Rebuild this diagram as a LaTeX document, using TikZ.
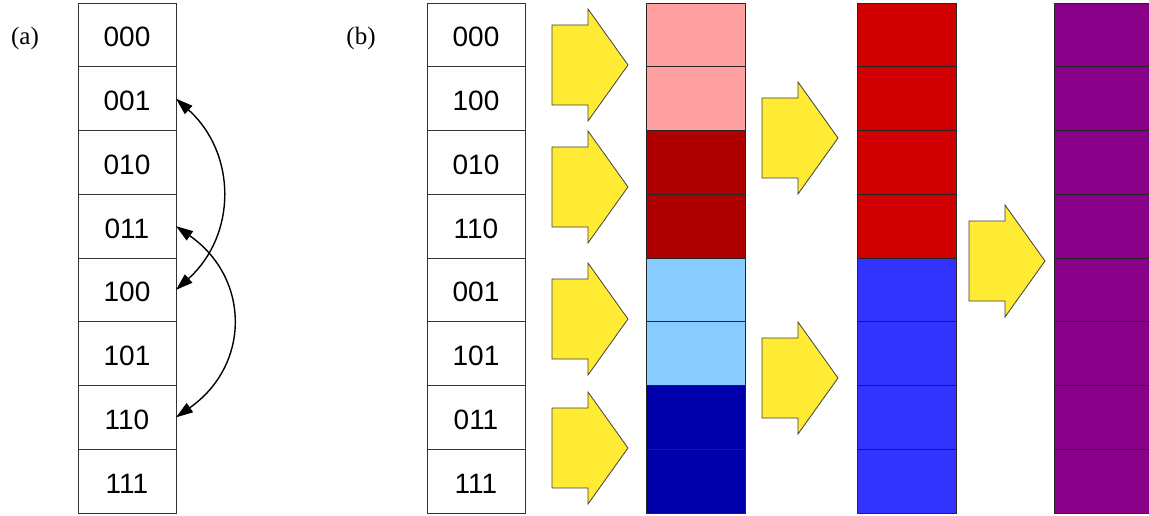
\documentclass[tikz,border=0pt]{standalone}
\usepackage{fontspec}
\setmainfont{Liberation Serif}
\newfontfamily\arialf{Liberation Sans}
\usetikzlibrary{arrows.meta}
\definecolor{cpink}{HTML}{FFA0A0}
\definecolor{cdred}{HTML}{AE0000}
\definecolor{clblue}{HTML}{88CCFF}
\definecolor{cdblue}{HTML}{0000AA}
\definecolor{cred}{HTML}{D00000}
\definecolor{cblue}{HTML}{3333FF}
\definecolor{cpurple}{HTML}{880088}
\definecolor{cyellow}{HTML}{FFEB33}
\tikzset{
  cellbox/.style={draw=black!80, line width=0.9pt, minimum width=98pt, minimum height=63.75pt, inner sep=0pt, outer sep=0pt, anchor=north west, text height=24pt, text depth=0pt, font=\arialf\fontsize{28}{30}\selectfont},
  colbox/.style={draw=black!85, line width=0.9pt, minimum width=99pt, minimum height=63.75pt, inner sep=0pt, outer sep=0pt, anchor=north west},
  panellabel/.style={font=\fontsize{25}{27}\selectfont},
  yarrow/.pic={\draw[draw=black!75, line width=0.8pt, fill=cyellow] (0,-40)--(36,-40)--(36,-56)--(76,0)--(36,56)--(36,40)--(0,40)--cycle;},
  swaparrow/.style={line width=1.4pt, {Triangle[length=17pt,width=11pt]}-{Triangle[length=17pt,width=11pt]}}
}
\begin{document}
\begin{tikzpicture}[x=1pt,y=-1pt]
\useasboundingbox (0,0) rectangle (1149,516);
% panel labels
\node[panellabel] (la) at (25,38) {(a)};
\node[panellabel] (lb) at (361,38) {(b)};
% (a) table
\foreach \t [count=\i from 0] in {000,001,010,011,100,101,110,111}
  \node[cellbox] (a\i) at (78,{3+63.75*\i}) {\t};
\draw[swaparrow] (a1.east) to[out=-42,in=42,looseness=1.1] (a4.east);
\draw[swaparrow] (a3.east) to[out=-35,in=35,looseness=1.22] (a6.east);
% (b) labels
\foreach \t [count=\i from 0] in {000,100,010,110,001,101,011,111}
  \node[cellbox] (b\i) at (427,{3+63.75*\i}) {\t};
% column 1
\foreach \c [count=\i from 0] in {cpink,cpink,cdred,cdred,clblue,clblue,cdblue,cdblue}
  \node[colbox, fill=\c] (c\i) at (646,{3+63.75*\i}) {};
% column 2
\foreach \c [count=\i from 0] in {cred,cred,cred,cred,cblue,cblue,cblue,cblue}
  \node[colbox, fill=\c] (d\i) at (857,{3+63.75*\i}) {};
% column 3
\foreach \i in {0,...,7}
  \node[colbox, fill=cpurple] (e\i) at (1054,{3+63.75*\i}) {};
% yellow arrows
\pic at (552,65) {yarrow};
\pic at (552,187) {yarrow};
\pic at (552,319) {yarrow};
\pic at (552,448) {yarrow};
\pic at (762,138) {yarrow};
\pic at (762,378) {yarrow};
\pic at (969,261) {yarrow};
\end{tikzpicture}
\end{document}
